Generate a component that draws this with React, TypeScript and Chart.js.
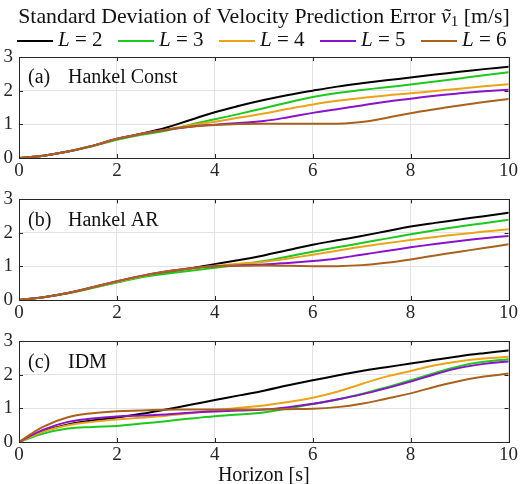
import React, { useEffect, useRef } from "react";
import { Chart, registerables } from "chart.js";

Chart.register(...registerables);

// ---------------- data ----------------
const horizon = [0, 0.5, 1, 1.5, 2, 2.5, 3, 3.5, 4, 4.5, 5, 5.5, 6, 6.5, 7, 7.5, 8, 8.5, 9, 9.5, 10];
const horizonTicks = [0, 2, 4, 6, 8, 10];
const errorTicks = [0, 1, 2, 3];
const lagLabels = ["2", "3", "4", "5", "6"];
const lagColors = ["#000000", "#1ec81e", "#eba31a", "#8a12c8", "#a8621e"];

// (a) Hankel Const
const constL2 = [0, 0.07, 0.19, 0.36, 0.56, 0.72, 0.9, 1.13, 1.36, 1.55, 1.72, 1.87, 2.0, 2.12, 2.22, 2.31, 2.39, 2.48, 2.56, 2.64, 2.71];
const constL3 = [0, 0.07, 0.19, 0.35, 0.54, 0.69, 0.81, 0.99, 1.15, 1.31, 1.48, 1.65, 1.81, 1.93, 2.02, 2.1, 2.18, 2.27, 2.36, 2.46, 2.55];
const constL4 = [0, 0.07, 0.19, 0.36, 0.56, 0.71, 0.84, 0.97, 1.08, 1.2, 1.32, 1.46, 1.59, 1.7, 1.78, 1.86, 1.92, 1.99, 2.06, 2.13, 2.19];
const constL5 = [0, 0.07, 0.19, 0.36, 0.57, 0.72, 0.84, 0.93, 0.99, 1.04, 1.1, 1.21, 1.34, 1.45, 1.56, 1.67, 1.76, 1.85, 1.92, 1.98, 2.03];
const constL6 = [0, 0.07, 0.19, 0.36, 0.57, 0.72, 0.84, 0.93, 0.98, 1.01, 1.02, 1.02, 1.02, 1.02, 1.07, 1.19, 1.33, 1.45, 1.56, 1.66, 1.75];

// (b) Hankel AR
const arL2 = [0, 0.08, 0.21, 0.37, 0.54, 0.7, 0.82, 0.94, 1.07, 1.19, 1.33, 1.49, 1.65, 1.78, 1.91, 2.05, 2.19, 2.3, 2.4, 2.5, 2.6];
const arL3 = [0, 0.08, 0.2, 0.36, 0.52, 0.68, 0.78, 0.87, 0.96, 1.05, 1.16, 1.3, 1.44, 1.57, 1.7, 1.83, 1.96, 2.08, 2.19, 2.29, 2.39];
const arL4 = [0, 0.08, 0.21, 0.37, 0.54, 0.71, 0.84, 0.93, 1.02, 1.08, 1.14, 1.24, 1.35, 1.47, 1.59, 1.69, 1.79, 1.88, 1.96, 2.04, 2.11];
const arL5 = [0, 0.08, 0.21, 0.38, 0.56, 0.72, 0.85, 0.95, 1.01, 1.03, 1.06, 1.1, 1.16, 1.24, 1.35, 1.46, 1.57, 1.67, 1.76, 1.84, 1.91];
const arL6 = [0, 0.08, 0.21, 0.38, 0.56, 0.72, 0.85, 0.95, 1.01, 1.02, 1.03, 1.02, 1.01, 1.01, 1.04, 1.11, 1.21, 1.33, 1.44, 1.55, 1.66];

// (c) IDM
const idmL2 = [0, 0.32, 0.52, 0.64, 0.73, 0.84, 0.97, 1.11, 1.25, 1.39, 1.53, 1.69, 1.84, 1.98, 2.12, 2.23, 2.34, 2.45, 2.56, 2.65, 2.73];
const idmL3 = [0, 0.25, 0.4, 0.45, 0.48, 0.55, 0.62, 0.7, 0.77, 0.82, 0.88, 1.0, 1.13, 1.27, 1.43, 1.63, 1.84, 2.06, 2.26, 2.39, 2.47];
const idmL4 = [0, 0.31, 0.5, 0.6, 0.67, 0.72, 0.78, 0.86, 0.95, 1.02, 1.09, 1.19, 1.32, 1.5, 1.73, 1.95, 2.12, 2.29, 2.41, 2.49, 2.54];
const idmL5 = [0, 0.37, 0.6, 0.7, 0.76, 0.79, 0.82, 0.87, 0.91, 0.94, 0.97, 1.04, 1.14, 1.27, 1.42, 1.6, 1.8, 2.02, 2.21, 2.33, 2.4];
const idmL6 = [0, 0.46, 0.74, 0.86, 0.92, 0.94, 0.96, 0.97, 0.97, 0.97, 0.97, 0.98, 0.99, 1.04, 1.14, 1.29, 1.45, 1.65, 1.82, 1.95, 2.04];

const panelTags = ["(a)", "(b)", "(c)"];
const panelNames = ["Hankel Const", "Hankel AR", "IDM"];
const panelSeries = [
  [constL2, constL3, constL4, constL5, constL6],
  [arL2, arL3, arL4, arL5, arL6],
  [idmL2, idmL3, idmL4, idmL5, idmL6],
];

const titleText = "Standard Deviation of Velocity Prediction Error ";
const titleUnit = " [m/s]";
const xTitle = "Horizon [s]";

// ---------------- styling ----------------
const FONT = '"Liberation Serif", "Times New Roman", serif';
const AXIS = "#262626";
const GRID = "#e3e3e3";

type Part = { t: string; i?: boolean; sub?: boolean };

function partFont(p: Part, size: number) {
  const s = p.sub ? size * 0.7 : size;
  return `${p.i ? "italic " : ""}${s}px ${FONT}`;
}
function measureParts(ctx: CanvasRenderingContext2D, parts: Part[], size: number) {
  let w = 0;
  for (const p of parts) {
    ctx.font = partFont(p, size);
    w += ctx.measureText(p.t).width;
  }
  return w;
}
function drawParts(ctx: CanvasRenderingContext2D, parts: Part[], x: number, y: number, size: number) {
  let cx = x;
  ctx.textBaseline = "middle";
  ctx.textAlign = "left";
  for (const p of parts) {
    ctx.font = partFont(p, size);
    ctx.fillText(p.t, cx, p.sub ? y + size * 0.25 : y);
    cx += ctx.measureText(p.t).width;
  }
  return cx;
}

const framePlugin = {
  id: "frame",
  afterDraw(chart: any, _args: any, opts: any) {
    const { ctx, chartArea: a, scales } = chart;
    ctx.save();
    // inward ticks
    ctx.strokeStyle = AXIS;
    ctx.lineWidth = 1;
    ctx.beginPath();
    for (const t of scales.x.ticks) {
      const px = Math.round(scales.x.getPixelForValue(t.value)) + 0.5;
      ctx.moveTo(px, a.bottom);
      ctx.lineTo(px, a.bottom - 4);
      ctx.moveTo(px, a.top);
      ctx.lineTo(px, a.top + 4);
    }
    for (const t of scales.y.ticks) {
      const py = Math.round(scales.y.getPixelForValue(t.value)) + 0.5;
      ctx.moveTo(a.left, py);
      ctx.lineTo(a.left + 4, py);
      ctx.moveTo(a.right, py);
      ctx.lineTo(a.right - 4, py);
    }
    ctx.stroke();
    // box
    ctx.strokeRect(Math.round(a.left) + 0.5, Math.round(a.top) + 0.5, Math.round(a.right - a.left), Math.round(a.bottom - a.top));
    // panel label
    ctx.fillStyle = "#111";
    ctx.font = `20px ${FONT}`;
    ctx.textBaseline = "middle";
    ctx.textAlign = "left";
    ctx.fillText(opts.tag, a.left + 9, a.top + 21);
    ctx.fillText(opts.name, a.left + 49, a.top + 21);

    if (opts.header) {
      // title
      const parts: Part[] = [{ t: titleText }, { t: "v\u0303", i: true }, { t: "1", sub: true }, { t: titleUnit }];
      let size = 19;
      const w = measureParts(ctx, parts, size);
      size = (size * 492) / w;
      const tw = measureParts(ctx, parts, size);
      ctx.fillStyle = "#111";
      drawParts(ctx, parts, 264 - tw / 2, 17, size);
      // legend
      for (let i = 0; i < lagLabels.length; i++) {
        const x0 = 17 + i * 101;
        ctx.strokeStyle = lagColors[i];
        ctx.lineWidth = 2;
        ctx.beginPath();
        ctx.moveTo(x0, 41);
        ctx.lineTo(x0 + 36, 41);
        ctx.stroke();
        ctx.fillStyle = "#111";
        drawParts(ctx, [{ t: "L", i: true }, { t: " = " + lagLabels[i] }], x0 + 41, 40, 21);
      }
    }
    ctx.restore();
  },
};

function Panel(props: { idx: number; top: number; height: number; padTop: number; xAxisH: number }) {
  const ref = useRef<HTMLCanvasElement>(null);
  const { idx, padTop, xAxisH } = props;
  useEffect(() => {
    const series = panelSeries[idx];
    const chart = new Chart(ref.current as HTMLCanvasElement, {
      type: "line",
      data: {
        datasets: series.map((vals, i) => ({
          label: "L = " + lagLabels[i],
          data: horizon.map((h, k) => ({ x: h, y: vals[k] })),
          borderColor: lagColors[i],
          backgroundColor: lagColors[i],
          borderWidth: 2,
          pointRadius: 0,
          tension: 0.4,
          borderJoinStyle: "round",
          borderCapStyle: "round",
          order: lagLabels.length - i,
        })),
      },
      options: {
        animation: false,
        responsive: false,
        layout: { padding: { top: padTop, right: 10, left: 0, bottom: 0 } },
        plugins: {
          legend: { display: false },
          tooltip: { enabled: false },
          frame: { tag: panelTags[idx], name: panelNames[idx], header: idx === 0 },
        } as any,
        scales: {
          x: {
            type: "linear",
            min: horizonTicks[0],
            max: horizonTicks[horizonTicks.length - 1],
            afterBuildTicks: (s: any) => {
              s.ticks = horizonTicks.map((v) => ({ value: v }));
            },
            ticks: { color: AXIS, font: { family: FONT, size: 19 }, padding: 2, maxRotation: 0, autoSkip: false },
            grid: { color: GRID, drawTicks: false },
            border: { display: false },
            title: idx === 2
              ? { display: true, text: xTitle, color: "#111", font: { family: FONT, size: 20 }, padding: { top: 4, bottom: -4 } }
              : { display: false },
            afterFit: (s: any) => {
              s.height = xAxisH;
            },
          },
          y: {
            type: "linear",
            min: errorTicks[0],
            max: errorTicks[errorTicks.length - 1],
            afterBuildTicks: (s: any) => {
              s.ticks = errorTicks.map((v) => ({ value: v }));
            },
            ticks: { color: AXIS, font: { family: FONT, size: 19 }, padding: 6 },
            grid: { color: GRID, drawTicks: false },
            border: { display: false },
            afterFit: (s: any) => {
              s.width = 19;
            },
          },
        },
      } as any,
      plugins: [framePlugin],
    });
    return () => chart.destroy();
  }, [idx, padTop, xAxisH]);
  return (
    <canvas
      ref={ref}
      width={520}
      height={props.height}
      style={{ position: "absolute", left: 0, top: props.top, width: 520, height: props.height }}
    />
  );
}

export default function App() {
  return (
    <div style={{ position: "absolute", left: 0, top: 0, width: 520, height: 484, background: "#fff", overflow: "hidden" }}>
      <Panel idx={0} top={0} height={182} padTop={57} xAxisH={24} />
      <Panel idx={1} top={182} height={142} padTop={16} xAxisH={24} />
      <Panel idx={2} top={324} height={160} padTop={16} xAxisH={42} />
    </div>
  );
}
